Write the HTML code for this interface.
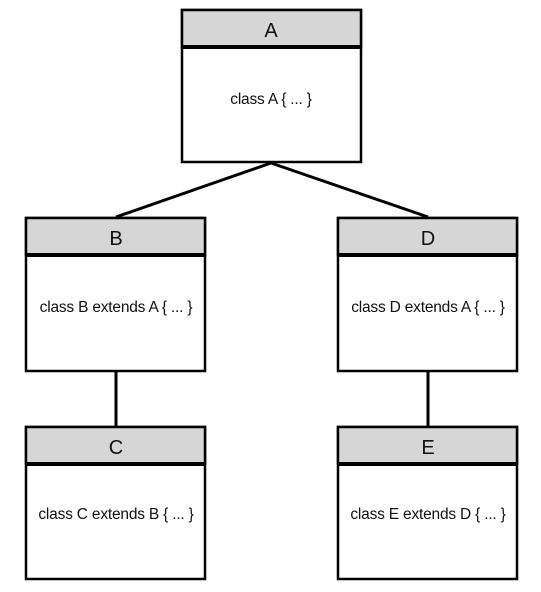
<!DOCTYPE html>
<html><head><style>body{margin:0;background:#fff}</style></head><body>
<svg width="541" height="587" xmlns="http://www.w3.org/2000/svg" font-family="Liberation Sans, sans-serif">
<g stroke="#000" stroke-width="3" fill="none">
<line x1="271" y1="163" x2="116" y2="217"/>
<line x1="271" y1="163" x2="428" y2="217"/>
<line x1="116" y1="372" x2="116" y2="426"/>
<line x1="428" y1="372" x2="428" y2="426"/>
</g>
<g stroke="#000" stroke-width="2.5">
<rect x="182" y="10" width="179" height="152" fill="#fff"/>
<rect x="182" y="10" width="179" height="37" fill="#d6d6d6"/>
<rect x="26" y="218" width="179" height="153" fill="#fff"/>
<rect x="26" y="218" width="179" height="37" fill="#d6d6d6"/>
<rect x="26" y="427" width="179" height="152" fill="#fff"/>
<rect x="26" y="427" width="179" height="37" fill="#d6d6d6"/>
<rect x="338" y="218" width="179" height="153" fill="#fff"/>
<rect x="338" y="218" width="179" height="37" fill="#d6d6d6"/>
<rect x="338" y="427" width="179" height="152" fill="#fff"/>
<rect x="338" y="427" width="179" height="37" fill="#d6d6d6"/>
</g>
<g stroke="#000" stroke-width="4">
<line x1="182" y1="47" x2="361" y2="47"/>
<line x1="26" y1="255" x2="205" y2="255"/>
<line x1="26" y1="464" x2="205" y2="464"/>
<line x1="338" y1="255" x2="517" y2="255"/>
<line x1="338" y1="464" x2="517" y2="464"/>
</g>
<g text-anchor="middle" fill="#111">
<text x="271" y="37" font-size="20">A</text>
<text x="116" y="245" font-size="20">B</text>
<text x="116" y="454" font-size="20">C</text>
<text x="428" y="245" font-size="20">D</text>
<text x="428" y="454" font-size="20">E</text>
<g font-size="15.5" letter-spacing="-0.2">
<text x="271" y="104">class A { ... }</text>
<text x="116" y="312">class B extends A { ... }</text>
<text x="116" y="519">class C extends B { ... }</text>
<text x="428" y="312">class D extends A { ... }</text>
<text x="428" y="519">class E extends D { ... }</text>
</g></g>
</svg>
</body></html>
